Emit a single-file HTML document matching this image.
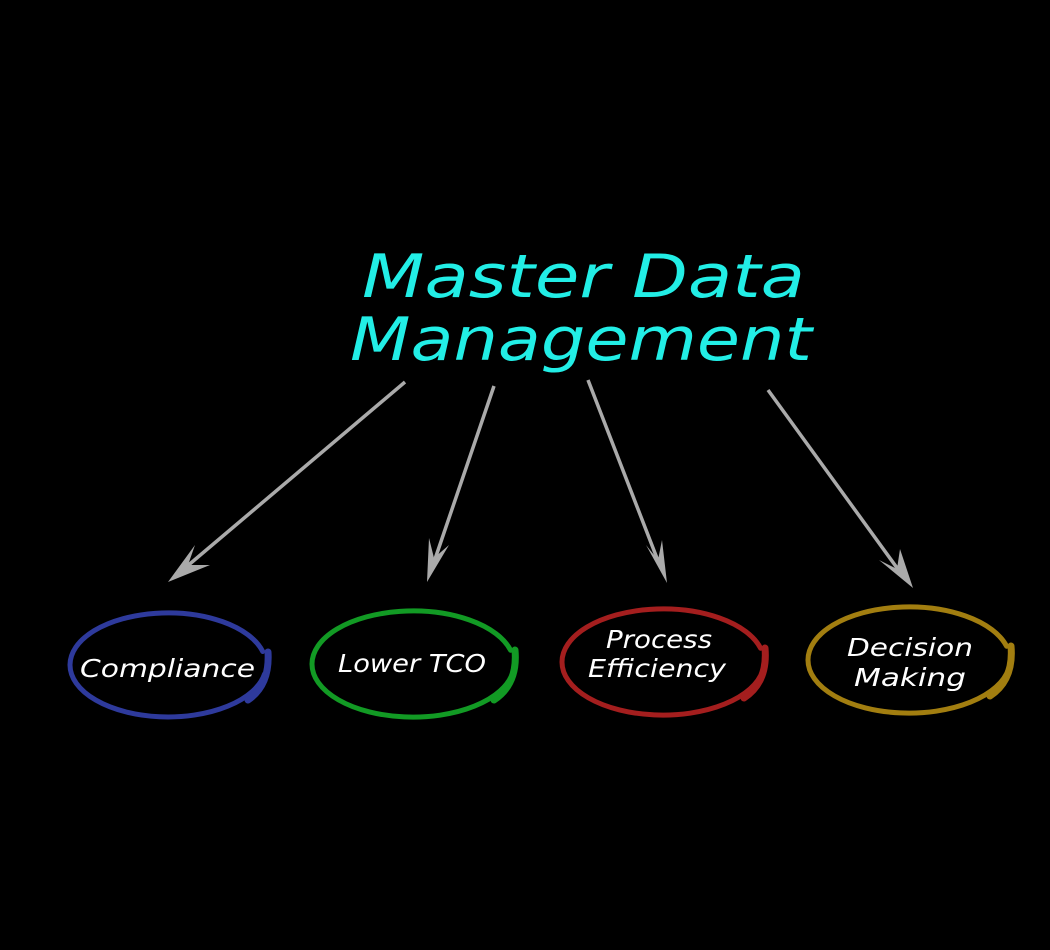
<!DOCTYPE html>
<html><head><style>html,body{margin:0;padding:0;background:#000;}svg{display:block}</style></head>
<body>
<svg width="1050" height="950" viewBox="0 0 1050 950" xmlns="http://www.w3.org/2000/svg">
<rect width="1050" height="950" fill="#000"/>
<g font-family="'DejaVu Sans', 'Liberation Sans', sans-serif" font-style="italic" fill="#22eee6">
<text x="362" y="297" font-size="60" textLength="443" lengthAdjust="spacingAndGlyphs">Master Data</text>
<text x="350" y="360" font-size="60" textLength="462" lengthAdjust="spacingAndGlyphs">Management</text>
</g>
<g stroke="#aaa" stroke-width="3.5" fill="none">
<line x1="405" y1="382" x2="185" y2="568"/>
<line x1="494" y1="386" x2="433" y2="565"/>
<line x1="588" y1="380" x2="660" y2="566"/>
<line x1="768" y1="390" x2="900" y2="572"/>
</g>
<g fill="#aaa">
<polygon points="168,582 195,545 188,565 210,565" />
<polygon points="427,582 429,538 434,558 449,545" />
<polygon points="667,583 646,545 658,560 662,540" />
<polygon points="913,588 879,560 897,569 900,549" />
</g>
<g fill="none" stroke-linecap="round">
<path d="M262.7,651.5 A98,52 0 0 0 70,665 A98,52 0 0 0 264.5,674" stroke="#2e3a9c" stroke-width="5"/>
<path d="M268,652 Q270,685 248,700" stroke="#2e3a9c" stroke-width="7"/>
<path d="M510.6,650.3 A101,53 0 0 0 312,664 A101,53 0 0 0 512.5,673.2" stroke="#129a24" stroke-width="5"/>
<path d="M515,650 Q518,684 494,700" stroke="#129a24" stroke-width="7"/>
<path d="M760.6,648.3 A101,53 0 0 0 562,662 A101,53 0 0 0 762.5,671.2" stroke="#a41e1e" stroke-width="5"/>
<path d="M765,648 Q768,682 744,698" stroke="#a41e1e" stroke-width="7"/>
<path d="M1006.6,646.3 A101,53 0 0 0 808,660 A101,53 0 0 0 1008.5,669.2" stroke="#a27e10" stroke-width="5"/>
<path d="M1011,646 Q1014,680 990,696" stroke="#a27e10" stroke-width="7"/>
</g>
<g font-family="'DejaVu Sans', 'Liberation Sans', sans-serif" font-style="italic" fill="#fff" font-size="25">
<text x="80" y="677" textLength="175" lengthAdjust="spacingAndGlyphs">Compliance</text>
<text x="338" y="672" textLength="148" lengthAdjust="spacingAndGlyphs">Lower TCO</text>
<text x="606" y="648" textLength="106" lengthAdjust="spacingAndGlyphs">Process</text>
<text x="588" y="677" textLength="138" lengthAdjust="spacingAndGlyphs">Efficiency</text>
<text x="847" y="656" textLength="126" lengthAdjust="spacingAndGlyphs">Decision</text>
<text x="854" y="686" textLength="112" lengthAdjust="spacingAndGlyphs">Making</text>
</g>
</svg>
</body></html>
